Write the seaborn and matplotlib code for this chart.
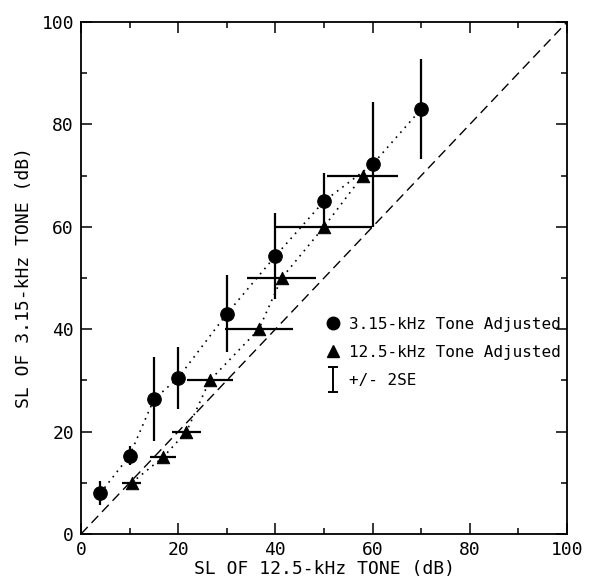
import numpy as np
import pandas as pd
import matplotlib
matplotlib.use("Agg")
import matplotlib.pyplot as plt
from matplotlib.lines import Line2D
from matplotlib.path import Path
import seaborn as sns

# 3.15-kHz tone adjusted (vertical +/- 2SE)
x_315 = [4, 10, 15, 20, 30, 40, 50, 60, 70]
y_315 = [8, 15.3, 26.3, 30.5, 43, 54.3, 65, 72.2, 83]
err_315 = [2.4, 1.8, 8.2, 6.0, 7.5, 8.4, 5.6, 12.2, 9.8]

# 12.5-kHz tone adjusted (horizontal +/- 2SE)
x_125 = [10.4, 16.9, 21.7, 26.5, 36.6, 41.3, 50, 58]
y_125 = [10, 15, 20, 30, 40, 50, 60, 70]
err_125 = [2.0, 2.7, 3.0, 4.7, 7.0, 7.1, 9.8, 7.3]

ticks = [0, 20, 40, 60, 80, 100]
label_315 = "3.15-kHz Tone Adjusted"
label_125 = "12.5-kHz Tone Adjusted"
label_err = "+/- 2SE"

df315 = pd.DataFrame({"x": x_315, "y": y_315})
df125 = pd.DataFrame({"x": x_125, "y": y_125})

sns.set_style("ticks")
plt.rcParams["font.family"] = ["DejaVu Sans Mono", "DejaVu Sans"]
plt.rcParams["text.color"] = "black"
plt.rcParams["axes.labelcolor"] = "black"

fig = plt.figure(figsize=(6.11, 5.82), dpi=100)
ax = fig.add_axes([81 / 611, 1 - 534 / 582, (567 - 81) / 611, (534 - 22) / 582])

# identity line
ax.plot([0, 100], [0, 100], color="black", lw=1.0, ls=(0, (7, 4)), zorder=1)

# dotted connecting lines
sns.lineplot(data=df315, x="x", y="y", ax=ax, sort=False, estimator=None,
             color="black", lw=1.2, ls=(0, (1, 3)), zorder=2)
sns.lineplot(data=df125, x="x", y="y", ax=ax, sort=False, estimator=None,
             color="black", lw=1.2, ls=(0, (1, 3)), zorder=2)

# error bars
ax.errorbar(x_315, y_315, yerr=err_315, fmt="none", ecolor="black",
            elinewidth=1.6, capsize=0, zorder=3)
ax.errorbar(x_125, y_125, xerr=err_125, fmt="none", ecolor="black",
            elinewidth=1.6, capsize=0, zorder=3)

# markers
sns.scatterplot(data=df315, x="x", y="y", ax=ax, marker="o", s=95,
                color="black", edgecolor="black", zorder=4)
sns.scatterplot(data=df125, x="x", y="y", ax=ax, marker="^", s=80,
                color="black", edgecolor="black", zorder=4)

ax.set_xlim(0, 100)
ax.set_ylim(0, 100)
ax.set_xticks(ticks)
ax.set_yticks(ticks)
ax.set_xticks(np.arange(10, 100, 20), minor=True)
ax.set_yticks(np.arange(10, 100, 20), minor=True)
ax.tick_params(which="both", direction="in", top=True, right=True,
               labelsize=13, width=1.1, colors="black", pad=5)
ax.tick_params(which="major", length=8)
ax.tick_params(which="minor", length=4)
for s in ax.spines.values():
    s.set_linewidth(1.3)
    s.set_color("black")

ax.set_xlabel("SL OF 12.5-kHz TONE (dB)", fontsize=13, labelpad=1)
ax.set_ylabel("SL OF 3.15-kHz TONE (dB)", fontsize=13, labelpad=6)

# legend
err_marker = Path([(0, -1), (0, 1), (-0.4, 1), (0.4, 1), (-0.4, -1), (0.4, -1)],
                  [Path.MOVETO, Path.LINETO, Path.MOVETO, Path.LINETO, Path.MOVETO, Path.LINETO])
handles = [
    Line2D([], [], marker="o", color="black", ls="none", markersize=9),
    Line2D([], [], marker="^", color="black", ls="none", markersize=8),
    Line2D([], [], marker=err_marker, color="black", ls="none", markersize=18,
           markeredgewidth=1.4, markerfacecolor="none"),
]
ax.legend(handles, [label_315, label_125, label_err], loc="upper left",
          bbox_to_anchor=(324 / 611, 1 - 317 / 582), bbox_transform=fig.transFigure,
          frameon=False, fontsize=11.5, labelcolor="black",
          handlelength=1.1, handletextpad=0.45, labelspacing=0.8,
          borderaxespad=0, borderpad=0)

fig.savefig("out.png", dpi=100, facecolor="white")
